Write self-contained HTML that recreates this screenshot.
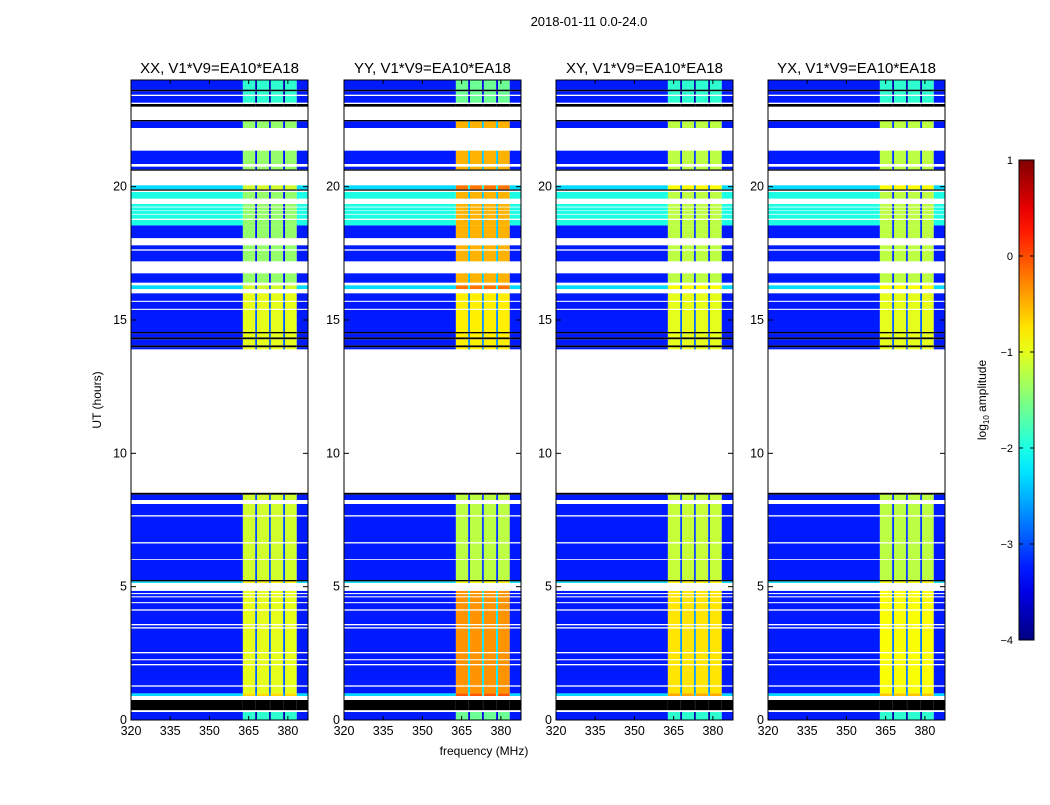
<!DOCTYPE html>
<html><head><meta charset="utf-8"><style>
body{margin:0;background:#fff;width:1050px;height:800px;overflow:hidden}
svg{font-family:"Liberation Sans","DejaVu Sans",sans-serif}
</style></head><body>
<svg id="fig" width="1050" height="800" xmlns="http://www.w3.org/2000/svg">
<text x="589" y="26" font-size="13" text-anchor="middle">2018-01-11 0.0-24.0</text>
<text x="484" y="755" font-size="12" text-anchor="middle">frequency (MHz)</text>
<text transform="translate(101,400) rotate(-90)" font-size="12" text-anchor="middle">UT (hours)</text>
<text transform="translate(986,400) rotate(-90)" font-size="12" text-anchor="middle">log<tspan font-size="8" dy="3">10</tspan><tspan dy="-3"> amplitude</tspan></text>
</svg>
<script>
// ---- data ----
const panelNames = ["XX, V1*V9=EA10*EA18","YY, V1*V9=EA10*EA18","XY, V1*V9=EA10*EA18","YX, V1*V9=EA10*EA18"];
const bandLow = [-1.0,-0.35,-0.75,-0.9];
const bandMid = [-1.1,-1.2,-1.15,-1.2];
const bandUp  = [-1.0,-0.8,-1.0,-1.0];
const bandTop = [-1.4,-0.5,-1.2,-1.2];
const bandCap = [-1.9,-1.6,-1.9,-1.9];
const bgLevel = -3.25;
const dipDrop = 1.9;
// frequency structure (MHz)
const freqEdges = [320,362.8,367.5,368.2,372.8,373.5,378.2,378.9,383.4,387.7];
const freqTypes = ["bg","band","dip","band","dip","band","dip","band","bg"];
// time rows (hours): start, end, kind (b=normal, k=flagged black, c=cyan wideband, l=light wideband)
const rowStart = [0,0.37,0.9,1.0,1.3,2.1,2.28,2.55,3.48,3.6,4.15,4.42,4.64,4.76,5.14,5.2,5.25,6.03,6.67,7.68,8.25,8.45,
 13.9,13.98,14.05,14.28,14.35,14.5,14.55,15.42,15.72,16.16,16.4,17.2,17.65,18.07,18.55,18.8,18.98,19.12,19.25,19.55,19.85,19.9,20.6,20.65,20.85,22.2,22.45,23.0,23.15,23.45,23.58,23.64];
const rowEnd   = [0.3,0.75,1.0,1.25,2.05,2.24,2.5,3.43,3.55,4.1,4.38,4.6,4.72,4.84,5.2,5.25,6.0,6.62,7.63,8.1,8.45,8.52,
 13.98,14.05,14.28,14.35,14.5,14.55,15.38,15.68,16.0,16.3,16.75,17.6,17.8,18.55,18.75,18.95,19.1,19.22,19.35,19.8,19.9,20.05,20.65,20.75,21.35,22.45,22.5,23.1,23.4,23.58,23.64,24];
const rowKind  = ["b","k","c","b","b","b","b","b","b","b","b","b","b","b","c","k","b","b","b","b","b","k",
 "b","k","b","k","b","k","b","b","b","c","b","b","b","b","l","l","l","l","l","l","k","c","k","b","b","b","k","k","b","b","k","b"];
const cbTicks = [1,0,-1,-2,-3,-4];
const xTicks = [320,335,350,365,380];
const yTicks = [0,5,10,15,20];
// ---- layout ----
const svg = document.getElementById('fig');
const NS = "http://www.w3.org/2000/svg";
const panelX = [131,344,556,768], PW = 177, PT = 80, PB = 720;
const fMin=320, fMax=387.7, tMin=0, tMax=24;
function jet(v){const t=Math.max(0,Math.min(1,(v+4)/5));
 const c=x=>Math.round(255*Math.max(0,Math.min(1,1.5-Math.abs(x))));
 return `rgb(${c(4*t-3)},${c(4*t-2)},${c(4*t-1)})`;}
function mk(tag,attrs,parent){const e=document.createElementNS(NS,tag);for(const k in attrs)e.setAttribute(k,attrs[k]);(parent||svg).appendChild(e);return e;}
function bandFor(p,h){ if(h<0.35) return bandCap[p]; if(h<5.1) return bandLow[p]; if(h<9) return bandMid[p]; if(h<16.1) return bandUp[p]; if(h<22.6) return bandTop[p]; return bandCap[p]; }
panelNames.forEach((name,p)=>{
 const x0=panelX[p];
 const sx=f=>x0+(f-fMin)/(fMax-fMin)*PW;
 const sy=h=>PB-(h-tMin)/(tMax-tMin)*(PB-PT);
 const g=mk('g',{});
 
 
 for(let r=0;r<rowStart.length;r++){
  const y1=sy(rowEnd[r]), y2=sy(rowStart[r]);
  for(let i=0;i<freqTypes.length;i++){
   const band=bandFor(p,rowStart[r]);
   let v; const ty=freqTypes[i], k=rowKind[r];
   if(ty==="bg") v = k==="c"?-2.3:(k==="l"?-2.0:bgLevel);
   else if(ty==="band") v = k==="c"?band+0.3:band;
   else v = (k==="c"?band+0.3:band)-dipDrop;
   const fill = k==="k" ? "#000" : jet(v);
   const re=mk('rect',{x:sx(freqEdges[i]),y:y1,width:sx(freqEdges[i+1])-sx(freqEdges[i]),height:Math.max(0.8,y2-y1),fill:fill},g);
   
   
  }
 }
 const fr=mk('rect',{x:x0,y:PT,width:PW,height:PB-PT,fill:'none',stroke:'#000','stroke-width':1},g);
 
 
 const tt=mk('text',{x:x0+PW/2,y:PT-7,'font-size':15,'text-anchor':'middle'},g);
 tt.textContent=name;
 
 
 xTicks.forEach(f=>{
  mk('line',{x1:sx(f),x2:sx(f),y1:PB,y2:PB-4,stroke:'#000'},g);
  mk('line',{x1:sx(f),x2:sx(f),y1:PT,y2:PT+4,stroke:'#000'},g);
  const t=mk('text',{x:sx(f),y:PB+15,'font-size':12.5,'text-anchor':'middle'},g);
  t.textContent=f;
  
  
 });
 yTicks.forEach(h=>{
  mk('line',{x1:x0,x2:x0+5,y1:sy(h),y2:sy(h),stroke:'#000'},g);
  mk('line',{x1:x0+PW,x2:x0+PW-5,y1:sy(h),y2:sy(h),stroke:'#000'},g);
  const t=mk('text',{x:x0-4,y:sy(h)+4,'font-size':12.5,'text-anchor':'end'},g);
  t.textContent=h;
  
  
 });
});
// colorbar
const cbX=1019,cbW=15,cbT=160,cbB=640;
const cb=mk('g',{});


const defs=mk('defs',{});
const lg=mk('linearGradient',{id:'jetg',x1:0,y1:1,x2:0,y2:0},defs);
for(let i=0;i<=20;i++){mk('stop',{offset:(i/20),'stop-color':jet(-4+5*i/20)},lg);}
mk('rect',{x:cbX,y:cbT,width:cbW,height:cbB-cbT,fill:'url(#jetg)',stroke:'#000'},cb);
const cs=v=>cbB-(v+4)/5*(cbB-cbT);
cbTicks.forEach(v=>{
 mk('line',{x1:cbX,x2:cbX+4,y1:cs(v),y2:cs(v),stroke:'#000'},cb);
 mk('line',{x1:cbX+cbW,x2:cbX+cbW-4,y1:cs(v),y2:cs(v),stroke:'#000'},cb);
 const t=mk('text',{x:cbX-6,y:cs(v)+4,'font-size':11,'text-anchor':'end'},cb);
 t.textContent=v<0?'\u2212'+(-v):v;
 
 
});
</script>
</body></html>
